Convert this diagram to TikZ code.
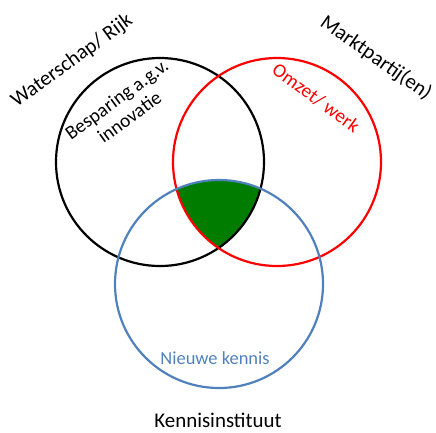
\documentclass[tikz,border=0pt]{standalone}
\usepackage{fontspec}
\setmainfont{Carlito}
\definecolor{kennisblue}{RGB}{79,129,189}
\definecolor{overlapgreen}{RGB}{0,125,0}
\tikzset{
  party/.style={draw, circle, line width=2.2bp, minimum size=208bp, inner sep=0pt},
  label/.style={font=\fontsize{21}{23}\selectfont, align=center, inner sep=1pt}
}
\begin{document}
\begin{tikzpicture}[x=1bp, y=-1bp]
    \useasboundingbox (0,0) rectangle (436,432);

    % Overlap of the three parties
    \begin{scope}
        \clip (160,162) circle[radius=104];
        \clip (277,162) circle[radius=104];
        \fill[overlapgreen] (219,284) circle[radius=104];
    \end{scope}

    % Circles
    \node[party, black] (waterschap) at (160,162) {};
    \node[party, red] (markt) at (277,162) {};
    \node[party, kennisblue] (kennis) at (219,284) {};

    % Party names
    \node[label, rotate=36] (waterschaplabel) at (72,61) {Waterschap/ Rijk};
    \node[label, rotate=-35] (marktlabel) at (376,58) {Marktpartij(en)};
    \node[label] (kennislabel) at (218,420) {Kennisinstituut};

    % Gains inside the circles
    \node[label, rotate=36, font=\fontsize{19.5}{22}\selectfont] (besparing) at (123,108) {Besparing a.g.v.\\innovatie};
    \node[label, rotate=-36, red, font=\fontsize{19.5}{21}\selectfont] (omzet) at (316,98) {Omzet/ werk};
    \node[label, kennisblue, font=\fontsize{18.5}{21}\selectfont] (nieuw) at (215,358) {Nieuwe kennis};
\end{tikzpicture}
\end{document}
